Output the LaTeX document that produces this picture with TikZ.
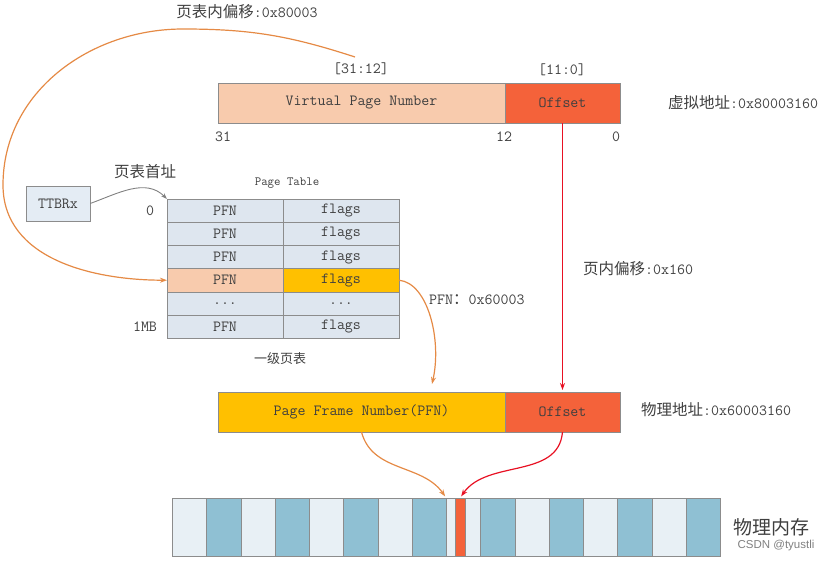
\documentclass[tikz,border=0pt]{standalone}
\usepackage{fontspec}
\newfontfamily\cjk{Noto Sans CJK SC}
\newfontfamily\wmfont{Liberation Sans}
\usetikzlibrary{arrows.meta}

\definecolor{vpnfill}{HTML}{F8CBAD}
\definecolor{offfill}{HTML}{F4623A}
\definecolor{goldfill}{HTML}{FFC000}
\definecolor{cellfill}{HTML}{DEE6EF}
\definecolor{regfill}{HTML}{E4ECF4}
\definecolor{memlight}{HTML}{E8F0F5}
\definecolor{memblue}{HTML}{8FC0D3}
\definecolor{linegray}{HTML}{8C8C8C}
\definecolor{txtgray}{HTML}{3F3F3F}
\definecolor{arrorange}{HTML}{E58A45}
\definecolor{arrred}{HTML}{E81123}
\newcommand{\rowdots}{...}

\begin{document}
\begin{tikzpicture}[x=1pt,y=1pt,
  every node/.style={font=\fontsize{15.5}{18}\selectfont\ttfamily, text=txtgray},
  box/.style={draw=linegray, inner sep=0pt, outer sep=0pt, minimum height=40},
  cell/.style={draw=linegray, inner sep=0pt, outer sep=0pt, minimum width=116, minimum height=23.2},
  memcell/.style={draw=linegray, inner sep=0pt, outer sep=0pt, minimum width=34.25, minimum height=58},
  lbl/.style={inner sep=0pt},
  oarrow/.style={draw=arrorange, line width=1.2pt, -{Stealth[length=7pt,width=5pt]}},
  rarrow/.style={draw=arrred, line width=1.2pt, -{Stealth[length=7pt,width=5pt]}},
  garrow/.style={draw=gray, line width=0.9pt, -{Stealth[length=6pt,width=4pt]}}]

\useasboundingbox (0,0) rectangle (830,-562);

% virtual address
\node[box, fill=vpnfill, minimum width=287] (vvpn) at (361.5,-103) {Virtual Page Number};
\node[box, fill=offfill, minimum width=115] (voff) at (562.5,-103) {Offset};
\node[lbl] (bhi) at (361,-69) {[31:12]};
\node[lbl] (blo) at (562,-70) {[11:0]};
\node[lbl] (b31) at (223,-137) {31};
\node[lbl] (b12) at (504,-137) {12};
\node[lbl] (b0) at (616,-137) {0};
\node[lbl, anchor=west] (vaddr) at (668,-103) {{\cjk 虚拟地址}:0x80003160};
\coordinate (vpntail) at (355,-57);

% page table
\node[draw=linegray, fill=regfill, inner sep=0pt, minimum width=64, minimum height=35] (ttbr) at (58,-203.5) {TTBRx};
\node[lbl] (ptbase) at (145,-172) {\cjk 页表首址};
\node[lbl, font=\fontsize{12.5}{14}\selectfont\ttfamily] (pttitle) at (287,-183) {Page Table};
\foreach \r/\a/\b/\ca/\cb in {1/PFN/flags/cellfill/cellfill, 2/PFN/flags/cellfill/cellfill,
    3/PFN/flags/cellfill/cellfill, 4/PFN/flags/vpnfill/goldfill,
    5/\rowdots/\rowdots/cellfill/cellfill, 6/PFN/flags/cellfill/cellfill} {
  \node[cell, fill=\ca] (pfn\r) at (225,{-187.4-23.2*\r}) {\a};
  \node[cell, fill=\cb] (flg\r) at (341,{-187.4-23.2*\r}) {\b};
}
\node[lbl] (idx0) at (150,-211) {0};
\node[lbl] (idxmb) at (145,-327) {1MB};
\node[lbl, font=\fontsize{13}{15}\selectfont\cjk] (ptname) at (280,-359) {一级页表};

% physical address
\node[box, fill=goldfill, minimum width=287] (ppfn) at (361.5,-412) {Page Frame Number(PFN)};
\node[box, fill=offfill, minimum width=115] (poff) at (562.5,-412) {Offset};
\node[lbl, anchor=west] (paddr) at (641,-410) {{\cjk 物理地址}:0x60003160};
\coordinate (pfnin) at (432,-384);

% memory
\foreach \i in {0,...,15} {
  \pgfmathtruncatemacro\odd{mod(\i,2)}
  \ifnum\odd=0 \def\mc{memlight}\else\def\mc{memblue}\fi
  \node[memcell, fill=\mc] (mem\i) at ({189.4+34.25*\i},-527) {};
}
\node[memcell, fill=offfill, minimum width=10] (page) at (460,-527) {};
\node[lbl, anchor=west, font=\fontsize{19}{22}\selectfont\cjk] (memname) at (733,-527) {物理内存};
\node[lbl, font=\fontsize{11.5}{13}\selectfont\wmfont, text=gray] (wm) at (776,-546) {CSDN @tyustli};

% labels on arrows
\node[lbl] (ttl) at (247,-12) {{\cjk 页表内偏移}:0x80003};
\node[lbl, anchor=west] (pfnval) at (429,-300) {PFN{\cjk ：}0x60003};
\node[lbl, anchor=west] (offval) at (583,-269) {{\cjk 页内偏移}:0x160};

% arrows
\draw[oarrow] (vpntail) to[out=162,in=0] (183,-29) to[out=180,in=90] (3,-185) to[out=-90,in=180] (pfn4.west);
\draw[garrow] (ttbr.east) to[out=20,in=135] (pfn1.north west);
\draw[oarrow] (flg4.east) .. controls (428,-283) and (442,-340) .. (pfnin);
\draw[rarrow] (voff.south) -- ([yshift=2pt]poff.north);
\draw[oarrow, shorten >=2pt] (ppfn.south) to[out=-75,in=125] (mem8.north west);
\draw[rarrow, shorten >=2pt] (poff.south) to[out=-95,in=55] (page.north);

\end{tikzpicture}
\end{document}
